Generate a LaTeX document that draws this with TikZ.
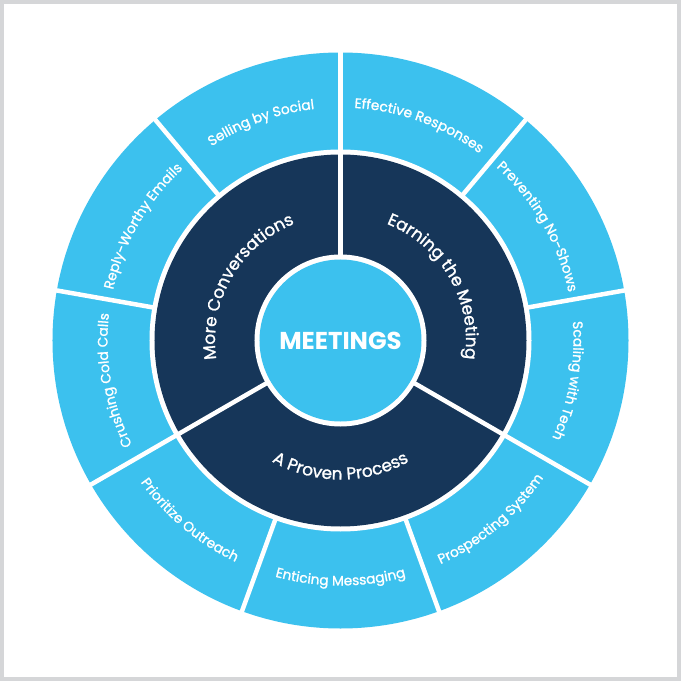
\documentclass[tikz,border=0pt]{standalone}
\usepackage{fontspec}
\setmainfont{Poppins}
\newfontfamily\medfont[FakeBold=1.3]{Poppins}
\usetikzlibrary{decorations.text}
\definecolor{skyb}{HTML}{3CC1EE}
\definecolor{navyb}{HTML}{163659}
\definecolor{framegray}{HTML}{D5D6D8}
% #1 start angle, #2 end angle, #3 radius, #4 font size, #5 text
\newcommand{\curvlabel}[5]{%
  \path[decorate, decoration={text along path, text align=center,
    text={|\color{white}\medfont\fontsize{#4}{#4}\selectfont|#5}}]
    (#1:#3) arc[start angle=#1, end angle=#2, radius=#3];}
\tikzset{
  divider/.style={white, line width=4.5bp},
}
\begin{document}
\begin{tikzpicture}[x=1bp,y=1bp]
\useasboundingbox (-340.5,-340.5) rectangle (340.5,340.5);
\fill[white] (-340.5,-340.5) rectangle (340.5,340.5);
\draw[framegray, line width=4.5bp] (-338.25,-338.25) rectangle (338.25,338.25);
% rings
\fill[skyb] (0,0) circle (288);
\fill[white] (0,0) circle (191);
\fill[navyb] (0,0) circle (186);
\fill[white] (0,0) circle (86);
\node[circle, fill=skyb, minimum size=162bp, inner sep=0pt, text=white,
  font=\bfseries\fontsize{24.5}{28}\selectfont] (hub) at (0,0) {MEETINGS};
% dividers
\foreach \a in {90,130,...,410} \draw[divider] (\a:188) -- (\a:292);
\foreach \a in {90,210,330} \draw[divider] (\a:83) -- (\a:189);
% outer labels
\curvlabel{145}{75}{233}{13.8}{Selling by Social}
\curvlabel{185}{115}{233}{13.8}{Reply-Worthy Emails}
\curvlabel{225}{155}{233}{13.8}{Crushing Cold Calls}
\curvlabel{195}{265}{245}{13.8}{Prioritize Outreach}
\curvlabel{235}{305}{245}{13.8}{Enticing Messaging}
\curvlabel{275}{345}{245}{13.8}{Prospecting System}
\curvlabel{25}{-45}{233}{13.8}{Scaling with Tech}
\curvlabel{65}{-5}{233}{13.8}{Preventing No-Shows}
\curvlabel{105}{35}{233}{13.8}{Effective Responses}
% inner labels
\curvlabel{230}{70}{125.5}{17}{More Conversations}
\curvlabel{110}{-50}{125.5}{17}{Earning the Meeting}
\curvlabel{190}{350}{139}{17}{A Proven Process}
\end{tikzpicture}
\end{document}
